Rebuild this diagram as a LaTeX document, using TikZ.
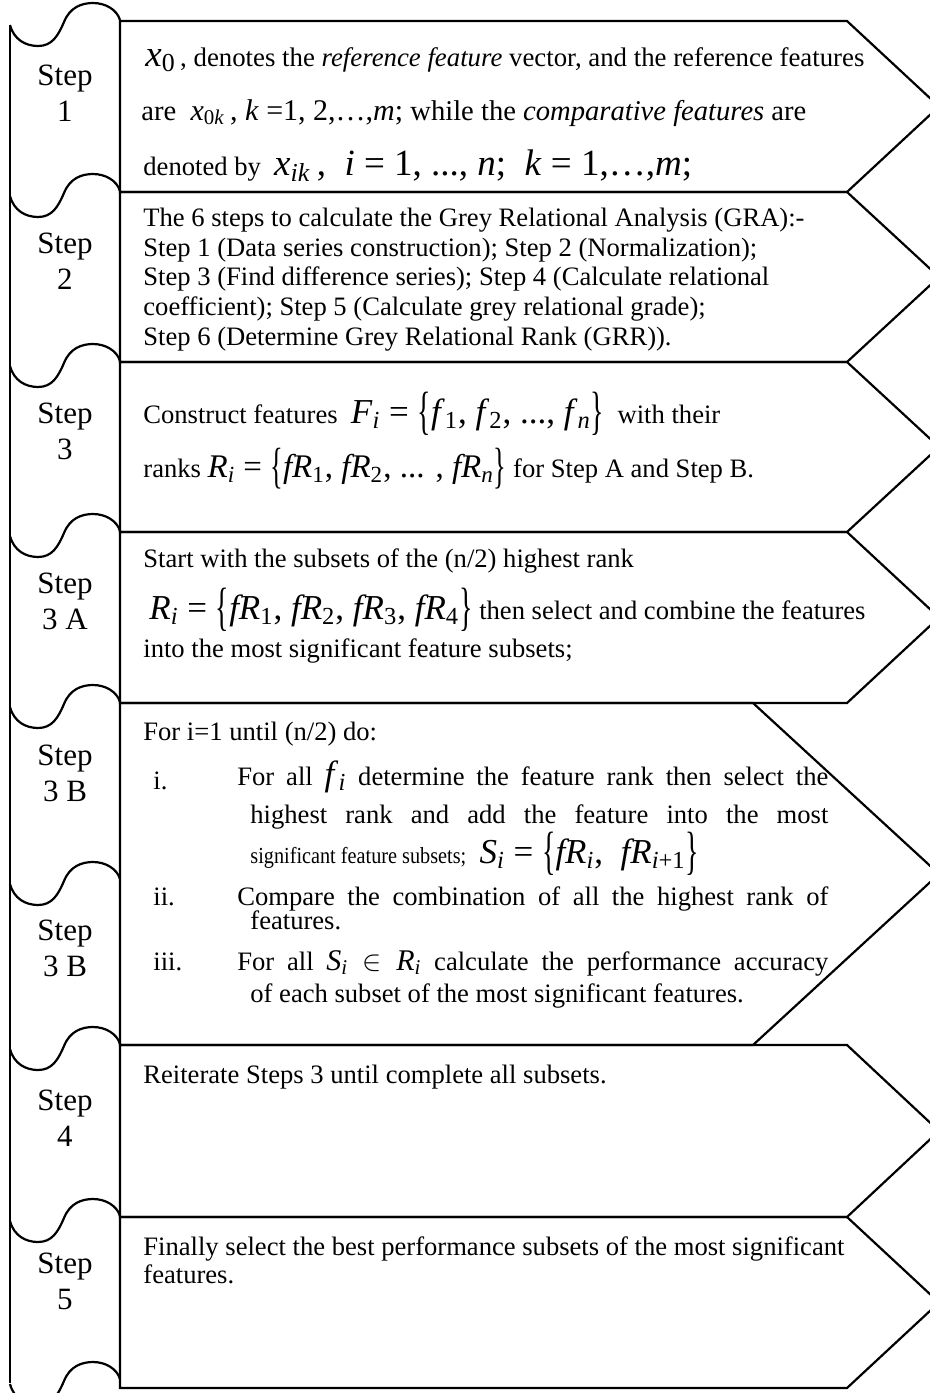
\documentclass[tikz,border=0pt]{standalone}
\usepackage{fontspec}
\setmainfont{Liberation Serif}
\usepackage{graphicx}
\usepackage{amsmath}

% sizes: body text and the Word-style formulas
\newcommand{\bodysz}{\fontsize{13.3}{15}\selectfont}
\newcommand{\eqsm}{\fontsize{15}{16}\selectfont}
\newcommand{\eqsz}{\fontsize{17.5}{18}\selectfont}
\newcommand{\eqszbig}{\fontsize{18.5}{19}\selectfont}
\newcommand{\mv}[1]{\textit{#1}}
\newcommand{\sbs}[1]{\textsubscript{#1}}
\newcommand{\lbrc}{\raisebox{-0.35ex}{\scalebox{0.8}[1.5]{\{}}}
\newcommand{\rbrc}{\raisebox{-0.35ex}{\scalebox{0.8}[1.5]{\}}}}

\tikzset{
  outline/.style={line width=1.1pt},
  bodytext/.style={anchor=base west, inner sep=0pt, font=\bodysz},
  tabtext/.style={anchor=base, inner sep=0pt, font=\fontsize{15.5}{18}\selectfont},
}

\begin{document}
\begin{tikzpicture}[x=0.5pt, y=-0.5pt]
  \clip (0,0) rectangle (930,1393);

  % left strip with the tabs
  \draw[outline] (10,25) -- (10,1383);
  \draw[outline] (120,20) -- (120,1388);
  \foreach \y in {21,192,362,532,703,880,1045,1217,1380}
    \draw[outline] (10,\y+4) .. controls (14,\y+19) and (26,\y+25) .. (38,\y+25)
      .. controls (52,\y+25) and (58,\y+15) .. (64,\y+1)
      .. controls (70,\y-14) and (82,\y-18) .. (93,\y-18)
      .. controls (106,\y-18) and (117,\y-11) .. (120,\y-1);
  \foreach \y/\num/\nm in {85/1/a, 253/2/b, 423/3/c, 593/3 A/d, 765/3 B/e, 940/3 B/f, 1110/4/g, 1273/5/h} {
    \node[tabtext] (tab\nm) at (65,\y) {Step};
    \node[tabtext] (num\nm) at (65,\y+36) {\num};
  }

  % step boxes
  \foreach \t/\b/\c in {21/192/847, 192/362/847, 362/532/847, 532/703/847, 703/1045/753, 1045/1217/847, 1217/1388/847}
    \draw[outline] (120,\t) -- (\c,\t) -- (939,{(\t+\b)/2}) -- (\c,\b) -- (120,\b) -- cycle;

  % step 1
  \node[bodytext, font=\fontsize{13.4}{15}\selectfont] (defx) at (145,66) {{\eqszbig\mv{x}\sbs{0}}\,, denotes the \textit{reference feature} vector, and the reference features};
  \node[bodytext, font=\fontsize{14.3}{15}\selectfont] (defxok) at (141,120) {are \ {\eqsm\mv{x}\sbs{0\mv{k}}\,, \mv{k} =1, 2,\ldots,\mv{m};} while the \textit{comparative features} are};
  \node[bodytext] (defxik) at (143,175) {denoted by \ {\eqszbig\mv{x}\sbs{\mv{ik}}\,, \ \mv{i} = 1, ..., \mv{n}; \ \mv{k} = 1,\ldots,\mv{m};}};

  % step 2
  \begin{scope}
    \clip (120,192) rectangle (847,351);
    \node[bodytext] (gra1) at (143,226) {The 6 steps to calculate the Grey Relational Analysis (GRA):-};
    \node[bodytext] (gra2) at (143,256) {Step 1 (Data series construction); Step 2 (Normalization);};
    \node[bodytext] (gra3) at (143,285) {Step 3 (Find difference series); Step 4 (Calculate relational};
    \node[bodytext] (gra4) at (143,315) {coefficient); Step 5 (Calculate grey relational grade);};
    \node[bodytext] (gra5) at (143,345) {Step 6 (Determine Grey Relational Rank (GRR)).};
  \end{scope}

  % step 3
  \node[bodytext] (feat) at (143,423) {Construct features \ {\eqsz\mv{F}\sbs{\mv{i}} = \lbrc\mv{f}\sbs{1}, \mv{f}\sbs{2}, ..., \mv{f}\sbs{\mv{n}}\rbrc} \ with their};
  \node[bodytext] (rank) at (143,477) {ranks {\fontsize{16.5}{17}\selectfont\mv{R}\sbs{\mv{i}} = \lbrc\mv{fR}\sbs{1}, \mv{fR}\sbs{2}, ... , \mv{fR}\sbs{\mv{n}}\rbrc} for Step A and Step B.};

  % step 3 A
  \node[bodytext] (half) at (143,567) {Start with the subsets of the (n/2) highest rank};
  \node[bodytext] (topr) at (149,619) {{\eqsz\mv{R}\sbs{\mv{i}} = \lbrc\mv{fR}\sbs{1}, \mv{fR}\sbs{2}, \mv{fR}\sbs{3}, \mv{fR}\sbs{4}\rbrc} then select and combine the features};
  \node[bodytext] (into) at (143,657) {into the most significant feature subsets;};

  % step 3 B
  \node[bodytext] (loop) at (143,740) {For i=1 until (n/2) do:};
  \node[bodytext] (itmi) at (153,789) {i.};
  \node[bodytext] (loopa) at (237,785) {\makebox[295.5pt][s]{For all {\eqsz\mv{f}\sbs{\mv{i}}} determine the feature rank then select the}};
  \node[bodytext] (loopb) at (250,823) {\makebox[289pt][s]{highest rank and add the feature into the most}};
  \node[bodytext] (loopc) at (250,863) {\scalebox{0.88}[1]{\fontsize{11.5}{13}\selectfont significant feature subsets;}\ \ {\eqsz\mv{S}\sbs{\mv{i}} = \lbrc\mv{fR}\sbs{\mv{i}}, \ \mv{fR}\sbs{\mv{i}+1}\rbrc}};
  \node[bodytext] (itmii) at (153,905) {ii.};
  \node[bodytext] (loopd) at (237,905) {\makebox[295.5pt][s]{Compare the combination of all the highest rank of}};
  \node[bodytext] (loope) at (250,929) {features.};
  \node[bodytext] (itmiii) at (153,970) {iii.};
  \node[bodytext] (loopf) at (237,970) {\makebox[295.5pt][s]{For all {\eqsm\mv{S}\sbs{\mv{i}} $\in$ \mv{R}\sbs{\mv{i}}} calculate the performance accuracy}};
  \node[bodytext] (loopg) at (250,1002) {of each subset of the most significant features.};

  % step 4
  \node[bodytext] (redo) at (143,1083) {Reiterate Steps 3 until complete all subsets.};

  % step 5
  \node[bodytext] (best) at (143,1255) {Finally select the best performance subsets of the most significant};
  \node[bodytext] (bestb) at (143,1283) {features.};
\end{tikzpicture}
\end{document}
